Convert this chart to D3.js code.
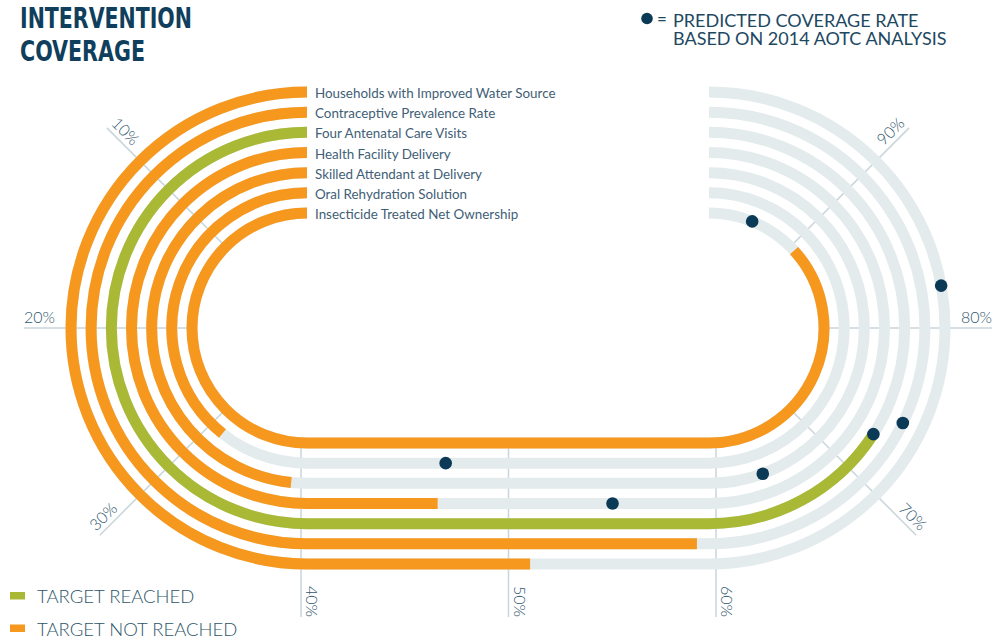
<!DOCTYPE html>
<html>
<head>
<meta charset="utf-8">
<script src="https://cdn.jsdelivr.net/npm/d3@7"></script>
<style>
  body { margin: 0; background: #fff; }
  svg { display: block; }
</style>
</head>
<body>
<svg id="chart" width="992" height="639"></svg>
<script>
// data, outer track first
const indicators = [
    "Households with Improved Water Source",
    "Contraceptive Prevalence Rate",
    "Four Antenatal Care Visits",
    "Health Facility Delivery",
    "Skilled Attendant at Delivery",
    "Oral Rehydration Solution",
    "Insecticide Treated Net Ownership"
];
const coverage = [51.1, 59.4, 72.6, 46.5, 38.7, 31.4, 89.4];
const predicted = [82.3, 74.2, 72.7, 55.2, 64.5, 46.9, 95.1];
const targetReached = [false, false, true, false, false, false, false];
const tickValues = [10, 20, 30, 40, 50, 60, 70, 80, 90];
const legendLabels = ["TARGET REACHED", "TARGET NOT REACHED"];

function drawTrackChart() {
    const svg = d3.select("#chart");
    svg.selectAll("*").remove();

    const orange = "#f7981e";
    const green = "#a9b936";
    const trackGrey = "#e3ebed";
    const gridGrey = "#c8d5db";
    const navy = "#0b3a56";
    const labelColor = "#3f6076";
    const tickColor = "#2f566d";
    const sans = "Lato, 'Open Sans', sans-serif";

    // geometry of the race track
    const cxL = 307, cxR = 709, cy = 328;
    const trackWidth = 11;
    const ring = d3.scaleLinear().domain([0, indicators.length - 1]).range([236, 115]);
    const straight = d3.scaleLinear().domain([40, 60]).range([cxL, cxR]);
    const gridX = d3.scaleLinear().domain([40, 60]).range([301, 716]);
    const leftAngle = d3.scaleLinear().domain([0, 40]).range([0, Math.PI]);
    const rightAngle = d3.scaleLinear().domain([60, 100]).range([0, Math.PI]);

    function pointAt(r, v) {
        if (v <= 40) {
            const a = leftAngle(v);
            return [cxL - r * Math.sin(a), cy - r * Math.cos(a)];
        }
        if (v <= 60) return [straight(v), cy + r];
        const a = rightAngle(v);
        return [cxR + r * Math.sin(a), cy + r * Math.cos(a)];
    }

    function trackPath(r, v) {
        const p = d3.path();
        p.moveTo(cxL, cy - r);
        p.arc(cxL, cy, r, -Math.PI / 2, -Math.PI / 2 - leftAngle(Math.min(v, 40)), true);
        if (v > 40) p.lineTo(straight(Math.min(v, 60)), cy + r);
        if (v > 60) p.arc(cxR, cy, r, Math.PI / 2, Math.PI / 2 - rightAngle(v), true);
        return p.toString();
    }

    // grid lines + percent labels
    const grid = svg.append("g");
    tickValues.forEach(v => {
        let x1, y1, x2, y2;
        if (v >= 40 && v <= 60) {
            x1 = x2 = gridX(v);
            y1 = cy + 112;
            y2 = cy + 289;
        } else {
            [x1, y1] = pointAt(112, v);
            const lower = pointAt(10, v)[1] > cy + 5;   // lower diagonals reach further out
            [x2, y2] = pointAt(lower ? 293 : 283, v);
        }
        grid.append("line")
            .attr("x1", x1).attr("y1", y1)
            .attr("x2", x2).attr("y2", y2)
            .attr("stroke", gridGrey)
            .attr("stroke-width", 1.5);

        const ux = (x2 - x1), uy = (y2 - y1);
        let angle, anchor;
        if (ux < -0.01) {
            angle = Math.atan2(-uy, -ux) * 180 / Math.PI;
            anchor = "start";
        } else {
            angle = Math.atan2(uy, ux) * 180 / Math.PI;
            anchor = "end";
        }
        grid.append("text")
            .attr("transform", `translate(${x2},${y2}) rotate(${angle})`)
            .attr("dy", -5)
            .attr("text-anchor", anchor)
            .style("font-family", sans)
            .style("font-weight", 300)
            .style("font-size", "16px")
            .attr("fill", tickColor)
            .text(v + "%");
    });

    // background tracks
    svg.append("g").selectAll("path")
        .data(indicators)
        .join("path")
        .attr("d", (d, i) => trackPath(ring(i), 100))
        .attr("fill", "none")
        .attr("stroke", trackGrey)
        .attr("stroke-width", trackWidth);

    // coverage
    svg.append("g").selectAll("path")
        .data(coverage)
        .join("path")
        .attr("d", (d, i) => trackPath(ring(i), d))
        .attr("fill", "none")
        .attr("stroke", (d, i) => targetReached[i] ? green : orange)
        .attr("stroke-width", trackWidth);

    // predicted dots
    svg.append("g").selectAll("circle")
        .data(predicted)
        .join("circle")
        .attr("cx", (d, i) => pointAt(ring(i), d)[0])
        .attr("cy", (d, i) => pointAt(ring(i), d)[1])
        .attr("r", 6.3)
        .attr("fill", navy);

    // track names
    svg.append("g").selectAll("text")
        .data(indicators)
        .join("text")
        .attr("x", 315)
        .attr("y", (d, i) => cy - ring(i) + 6)
        .style("font-family", sans)
        .style("font-size", "13.4px")
        .attr("fill", labelColor)
        .text(d => d);

    // title (condensed look)
    const titleLines = [["INTERVENTION", 172], ["COVERAGE", 125]];
    titleLines.forEach(([t, w], i) => {
        svg.append("text")
            .attr("x", 20)
            .attr("y", 28 + i * 33)
            .attr("textLength", w)
            .attr("lengthAdjust", "spacingAndGlyphs")
            .style("font-family", "'DejaVu Sans Condensed', Roboto, sans-serif")
            .style("font-weight", "bold")
            .style("font-size", "27.5px")
            .attr("fill", "#0f3f5c")
            .text(t);
    });

    // predicted legend
    svg.append("circle")
        .attr("cx", 647)
        .attr("cy", 18.5)
        .attr("r", 5.8)
        .attr("fill", navy);
    svg.append("text")
        .attr("x", 657)
        .attr("y", 25)
        .style("font-family", sans)
        .style("font-size", "17px")
        .attr("fill", "#1d4862")
        .text("=");
    ["PREDICTED COVERAGE RATE", "BASED ON 2014 AOTC ANALYSIS"].forEach((t, i) => {
        svg.append("text")
            .attr("x", 673)
            .attr("y", 27 + i * 18.3)
            .style("font-family", sans)
            .style("font-size", "18px")
            .attr("fill", "#1d4862")
            .text(t);
    });

    // target legend
    const legend = svg.append("g");
    legendLabels.forEach((d, i) => {
        legend.append("rect")
            .attr("x", 10)
            .attr("y", 592 + i * 32.5)
            .attr("width", 15)
            .attr("height", 7.5)
            .attr("fill", i ? orange : green);
        legend.append("text")
            .attr("x", 37)
            .attr("y", 603 + i * 32.5)
            .style("font-family", sans)
            .style("font-weight", 300)
            .style("font-size", "18.5px")
            .attr("fill", "#2f5569")
            .text(d);
    });
}

drawTrackChart();
</script>
</body>
</html>
